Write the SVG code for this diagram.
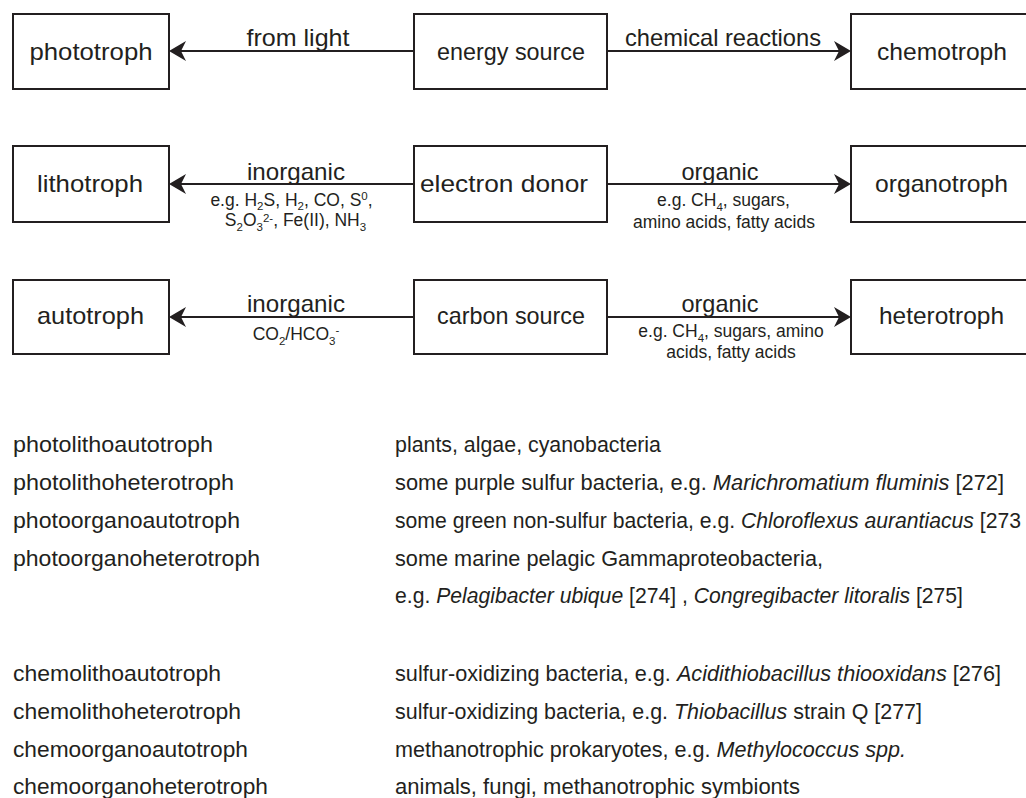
<svg xmlns="http://www.w3.org/2000/svg" width="1026" height="798" viewBox="0 0 1026 798">
<defs>
<style>
.box{fill:#fff;stroke:#231f20;stroke-width:2}
text{font-family:"Liberation Sans",Arial,sans-serif;fill:#231f20}
.lbl{font-size:24px;text-anchor:middle}
.arl{font-size:24px;text-anchor:middle}
.sm{font-size:17.5px;text-anchor:middle}
.sub{font-size:11.5px}
.lst{font-size:22.5px}
.it{font-style:italic}
.con{stroke:#231f20;stroke-width:2;fill:none;marker-end:url(#ah)}
</style>
<marker id="ah" viewBox="-9 -10 17 20" refX="0" refY="0" markerWidth="17" markerHeight="20" markerUnits="userSpaceOnUse" orient="auto">
<path d="M8,0 L-9,-10 L-4,0 L-9,10 Z" fill="#231f20"/>
</marker>
</defs>
<rect x="0" y="0" width="1026" height="798" fill="#fff"/>

<g id="connectors">
<path class="con" d="M414,51 H177"/>
<path class="con" d="M607,51 H843"/>
<path class="con" d="M414,184 H177"/>
<path class="con" d="M607,184 H843"/>
<path class="con" d="M414,317 H177"/>
<path class="con" d="M607,317 H843"/>
<text class="arl" x="298" y="45.5" textLength="103" lengthAdjust="spacingAndGlyphs">from light</text>
<text class="arl" x="723" y="46" textLength="196" lengthAdjust="spacingAndGlyphs">chemical reactions</text>
<text class="arl" x="296" y="180" textLength="98" lengthAdjust="spacingAndGlyphs">inorganic</text>
<text class="arl" x="720" y="180" textLength="77" lengthAdjust="spacingAndGlyphs">organic</text>
<text class="arl" x="296" y="312" textLength="98" lengthAdjust="spacingAndGlyphs">inorganic</text>
<text class="arl" x="720" y="312" textLength="77" lengthAdjust="spacingAndGlyphs">organic</text>
<text class="sm" x="291.5" y="206">e.g. H<tspan class="sub" dy="3.5">2</tspan><tspan dy="-3.5">S, H</tspan><tspan class="sub" dy="3.5">2</tspan><tspan dy="-3.5">, CO, S</tspan><tspan class="sub" dy="-6">0</tspan><tspan dy="6">,</tspan></text>
<text class="sm" x="295.5" y="226">S<tspan class="sub" dy="4.5">2</tspan><tspan dy="-4.5">O</tspan><tspan class="sub" dy="4.5">3</tspan><tspan class="sub" dy="-8.5">2-</tspan><tspan dy="4">, Fe(II), NH</tspan><tspan class="sub" dy="4.5">3</tspan></text>
<text class="sm" x="723.5" y="206">e.g. CH<tspan class="sub" dy="4.5">4</tspan><tspan dy="-4.5">, sugars,</tspan></text>
<text class="sm" x="724" y="228">amino acids, fatty acids</text>
<text class="sm" x="296" y="340">CO<tspan class="sub" dy="4.5">2</tspan><tspan dy="-4.5">/HCO</tspan><tspan class="sub" dy="4.5">3</tspan><tspan class="sub" dy="-10.5">-</tspan></text>
<text class="sm" x="731" y="337">e.g. CH<tspan class="sub" dy="4.5">4</tspan><tspan dy="-4.5">, sugars, amino</tspan></text>
<text class="sm" x="731" y="358">acids, fatty acids</text>
</g>

<g id="phototroph"><rect class="box" x="13" y="14" width="156" height="75"/><text class="lbl" x="91" y="60" textLength="123" lengthAdjust="spacingAndGlyphs">phototroph</text></g>
<g id="energy-source"><rect class="box" x="414" y="14" width="193" height="75"/><text class="lbl" x="511" y="60" textLength="148" lengthAdjust="spacingAndGlyphs">energy source</text></g>
<g id="chemotroph"><rect class="box" x="851" y="14" width="190" height="75"/><text class="lbl" x="942" y="60" textLength="130" lengthAdjust="spacingAndGlyphs">chemotroph</text></g>

<g id="lithotroph"><rect class="box" x="13" y="146" width="156" height="76"/><text class="lbl" x="90" y="192" textLength="106" lengthAdjust="spacingAndGlyphs">lithotroph</text></g>
<g id="electron-donor"><rect class="box" x="414" y="146" width="193" height="76"/><text class="lbl" x="504" y="192" textLength="168" lengthAdjust="spacingAndGlyphs">electron donor</text></g>
<g id="organotroph"><rect class="box" x="851" y="146" width="190" height="76"/><text class="lbl" x="941.5" y="192" textLength="133" lengthAdjust="spacingAndGlyphs">organotroph</text></g>

<g id="autotroph"><rect class="box" x="13" y="280" width="156" height="74"/><text class="lbl" x="90.5" y="324" textLength="107" lengthAdjust="spacingAndGlyphs">autotroph</text></g>
<g id="carbon-source"><rect class="box" x="414" y="280" width="193" height="74"/><text class="lbl" x="511" y="324" textLength="148" lengthAdjust="spacingAndGlyphs">carbon source</text></g>
<g id="heterotroph"><rect class="box" x="851" y="280" width="190" height="74"/><text class="lbl" x="941.5" y="324" textLength="125" lengthAdjust="spacingAndGlyphs">heterotroph</text></g>

<g id="list">
<text class="lst" x="13" y="452" textLength="200" lengthAdjust="spacingAndGlyphs">photolithoautotroph</text>
<text class="lst" x="13" y="490" textLength="221" lengthAdjust="spacingAndGlyphs">photolithoheterotroph</text>
<text class="lst" x="13" y="528" textLength="227" lengthAdjust="spacingAndGlyphs">photoorganoautotroph</text>
<text class="lst" x="13" y="566" textLength="247" lengthAdjust="spacingAndGlyphs">photoorganoheterotroph</text>
<text class="lst" x="13" y="681" textLength="208" lengthAdjust="spacingAndGlyphs">chemolithoautotroph</text>
<text class="lst" x="13" y="719" textLength="228" lengthAdjust="spacingAndGlyphs">chemolithoheterotroph</text>
<text class="lst" x="13" y="757" textLength="235" lengthAdjust="spacingAndGlyphs">chemoorganoautotroph</text>
<text class="lst" x="13" y="794" textLength="255" lengthAdjust="spacingAndGlyphs">chemoorganoheterotroph</text>

<text class="lst" x="395" y="452" textLength="266" lengthAdjust="spacingAndGlyphs">plants, algae, cyanobacteria</text>
<text class="lst" x="395" y="490" textLength="609" lengthAdjust="spacingAndGlyphs">some purple sulfur bacteria, e.g. <tspan class="it">Marichromatium fluminis</tspan> [272]</text>
<text class="lst" x="395" y="528" textLength="626" lengthAdjust="spacingAndGlyphs">some green non-sulfur bacteria, e.g. <tspan class="it">Chloroflexus aurantiacus</tspan> [273</text>
<text class="lst" x="395" y="566" textLength="428" lengthAdjust="spacingAndGlyphs">some marine pelagic Gammaproteobacteria,</text>
<text class="lst" x="395" y="603" textLength="568" lengthAdjust="spacingAndGlyphs">e.g. <tspan class="it">Pelagibacter ubique</tspan> [274] , <tspan class="it">Congregibacter litoralis</tspan> [275]</text>
<text class="lst" x="395" y="681" textLength="606" lengthAdjust="spacingAndGlyphs">sulfur-oxidizing bacteria, e.g. <tspan class="it">Acidithiobacillus thiooxidans</tspan> [276]</text>
<text class="lst" x="395" y="719" textLength="527" lengthAdjust="spacingAndGlyphs">sulfur-oxidizing bacteria, e.g. <tspan class="it">Thiobacillus</tspan> strain Q [277]</text>
<text class="lst" x="395" y="757" textLength="511" lengthAdjust="spacingAndGlyphs">methanotrophic prokaryotes, e.g. <tspan class="it">Methylococcus spp.</tspan></text>
<text class="lst" x="395" y="794" textLength="405" lengthAdjust="spacingAndGlyphs">animals, fungi, methanotrophic symbionts</text>
</g>
</svg>
